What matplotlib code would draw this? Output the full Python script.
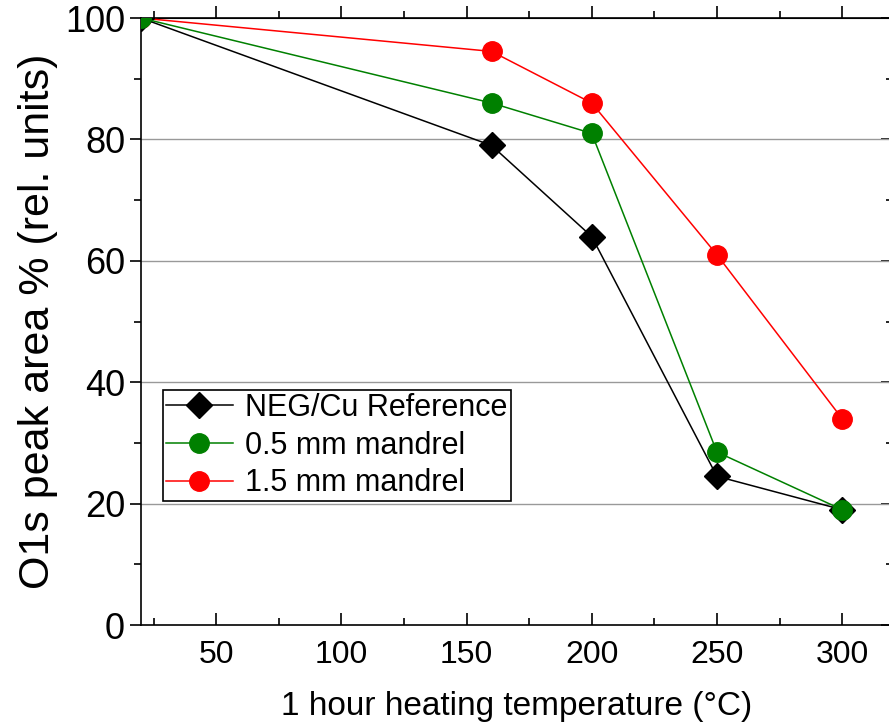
import matplotlib.pyplot as plt
from matplotlib.ticker import MultipleLocator

plt.rcParams['font.family'] = ['Liberation Sans', 'DejaVu Sans']

# data
temps = [20, 160, 200, 250, 300]
neg_ref = [100, 79, 64, 24.5, 19]
mandrel_05 = [100, 86, 81, 28.5, 19]
mandrel_15 = [100, 94.5, 86, 61, 34]

fig = plt.figure(figsize=(8.89, 7.27), dpi=100)
ax = fig.add_axes([0.1586, 0.1403, 0.845, 0.8349])

ax.plot(temps, mandrel_15, color='red', marker='o', markersize=14, lw=1.1,
        label='1.5 mm mandrel', zorder=3)
ax.plot(temps, neg_ref, color='black', marker='D', markersize=13, lw=1.1,
        label='NEG/Cu Reference', zorder=4)
ax.plot(temps, mandrel_05, color='green', marker='o', markersize=14, lw=1.1,
        label='0.5 mm mandrel', zorder=5)

ax.set_xlim(20, 320)
ax.set_ylim(0, 100)
ax.xaxis.set_major_locator(MultipleLocator(50))
ax.xaxis.set_minor_locator(MultipleLocator(25))
ax.yaxis.set_major_locator(MultipleLocator(20))
ax.yaxis.set_minor_locator(MultipleLocator(10))

for g in [20, 40, 60, 80]:
    ax.axhline(g, color='#999999', lw=1, zorder=1)

ax.tick_params(axis='x', which='major', direction='in', length=9, width=1.2, labelsize=23, pad=11)
ax.tick_params(axis='x', which='minor', direction='in', length=5, width=1.2)
ax.tick_params(axis='y', which='major', direction='out', length=8, width=1.2, labelsize=26)
ax.tick_params(axis='y', which='minor', direction='out', length=5, width=1.2)
ax.spines['right'].set_visible(False)

top = ax.secondary_xaxis('top')
top.xaxis.set_major_locator(MultipleLocator(50))
top.xaxis.set_minor_locator(MultipleLocator(25))
top.tick_params(which='major', direction='out', length=9, width=1.2, labeltop=False)
top.tick_params(which='minor', direction='out', length=5, width=1.2)

right = ax.secondary_yaxis('right')
right.yaxis.set_major_locator(MultipleLocator(20))
right.yaxis.set_minor_locator(MultipleLocator(10))
right.tick_params(which='major', direction='in', length=8, width=1.2, labelright=False)
right.tick_params(which='minor', direction='in', length=4, width=1.2)

for s in ax.spines.values():
    s.set_linewidth(1.2)

ax.set_xlabel('1 hour heating temperature (°C)', fontsize=24, labelpad=15)
ax.set_ylabel('O1s peak area % (rel. units)', fontsize=31, labelpad=5)

h, l = ax.get_legend_handles_labels()
order = [1, 2, 0]
leg = ax.legend([h[i] for i in order], [l[i] for i in order], loc='upper left',
                bbox_to_anchor=(0.029, 0.387), fontsize=22, fancybox=False,
                edgecolor='black', framealpha=1, borderpad=0.1, borderaxespad=0,
                handlelength=2.2, handletextpad=0.4, labelspacing=0.25)
leg.get_frame().set_linewidth(1.2)

fig.savefig('out.png', dpi=100)
